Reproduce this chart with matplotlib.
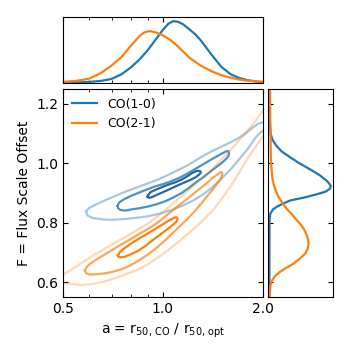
import matplotlib
matplotlib.use("Agg")
import matplotlib.pyplot as plt
from matplotlib.ticker import FixedLocator, NullFormatter

# --- contour levels (a, F) ---
# CO(1-0)
b_in_x = [0.900, 0.915, 0.946, 0.99, 1.037, 1.09, 1.138, 1.18, 1.220, 1.255, 1.280, 1.297, 1.300, 1.285, 1.263,
          1.215, 1.164, 1.11, 1.062, 1.015, 0.968, 0.93, 0.910, 0.898, 0.900]
b_in_y = [0.890, 0.902, 0.910, 0.919, 0.928, 0.936, 0.945, 0.955, 0.966, 0.973, 0.975, 0.973, 0.968, 0.962, 0.955,
          0.945, 0.936, 0.926, 0.916, 0.906, 0.896, 0.887, 0.884, 0.886, 0.890]
b_mid_x = [0.730, 0.738, 0.758, 0.80, 0.85, 0.90, 0.946, 1.0, 1.062, 1.13, 1.192, 1.26, 1.338, 1.42, 1.502, 1.55,
           1.573, 1.582, 1.575, 1.545, 1.50, 1.45, 1.401, 1.33, 1.248, 1.19, 1.138, 1.075, 1.014, 0.955, 0.903,
           0.851, 0.805, 0.77, 0.745, 0.733, 0.730]
b_mid_y = [0.856, 0.868, 0.877, 0.890, 0.902, 0.913, 0.922, 0.930, 0.940, 0.953, 0.967, 0.983, 1.000, 1.017, 1.032,
           1.040, 1.041, 1.034, 1.024, 1.013, 1.000, 0.988, 0.975, 0.955, 0.933, 0.915, 0.900, 0.885, 0.872,
           0.862, 0.855, 0.849, 0.845, 0.841, 0.843, 0.849, 0.856]
b_out_x = [0.587, 0.600, 0.630, 0.684, 0.735, 0.786, 0.84, 0.903, 0.97, 1.037, 1.11, 1.192, 1.26, 1.338, 1.42,
           1.502, 1.59, 1.686, 1.77, 1.849, 1.93, 2.05, 2.06, 1.95, 1.892, 1.806, 1.71, 1.610, 1.50, 1.401, 1.32,
           1.248, 1.16, 1.062, 0.98, 0.903, 0.82, 0.751, 0.707, 0.66, 0.615, 0.592, 0.587]
b_out_y = [0.838, 0.850, 0.862, 0.880, 0.895, 0.908, 0.920, 0.933, 0.946, 0.961, 0.977, 0.994, 1.011, 1.028, 1.043,
           1.056, 1.069, 1.084, 1.100, 1.117, 1.132, 1.142, 1.12, 1.100, 1.083, 1.050, 1.018, 0.983, 0.948, 0.917,
           0.895, 0.878, 0.860, 0.843, 0.831, 0.822, 0.816, 0.812, 0.810, 0.811, 0.816, 0.825, 0.838]
# CO(2-1)
o_in_x = [0.732, 0.740, 0.760, 0.79, 0.824, 0.875, 0.925, 0.98, 1.037, 1.065, 1.087, 1.103, 1.107, 1.100, 1.087,
          1.05, 1.014, 0.97, 0.925, 0.885, 0.843, 0.80, 0.768, 0.745, 0.734, 0.732]
o_in_y = [0.690, 0.700, 0.712, 0.725, 0.739, 0.756, 0.772, 0.789, 0.806, 0.813, 0.818, 0.818, 0.812, 0.805, 0.799,
          0.785, 0.772, 0.756, 0.739, 0.722, 0.706, 0.694, 0.686, 0.684, 0.686, 0.690]
o_mid_x = [0.582, 0.590, 0.605, 0.630, 0.669, 0.71, 0.751, 0.80, 0.843, 0.895, 0.946, 1.0, 1.062, 1.125, 1.192,
           1.26, 1.338, 1.41, 1.470, 1.495, 1.510, 1.505, 1.485, 1.43, 1.369, 1.31, 1.248, 1.19, 1.138, 1.085,
           1.037, 0.99, 0.946, 0.895, 0.843, 0.795, 0.751, 0.71, 0.669, 0.63, 0.600, 0.586, 0.582]
o_mid_y = [0.640, 0.652, 0.663, 0.676, 0.694, 0.711, 0.728, 0.745, 0.761, 0.777, 0.794, 0.815, 0.839, 0.861, 0.883,
           0.905, 0.928, 0.950, 0.965, 0.971, 0.966, 0.955, 0.944, 0.920, 0.894, 0.867, 0.839, 0.815, 0.794,
           0.772, 0.750, 0.730, 0.711, 0.691, 0.672, 0.656, 0.644, 0.636, 0.630, 0.627, 0.626, 0.631, 0.640]
o_out_x = [0.49, 0.52, 0.543, 0.58, 0.624, 0.69, 0.751, 0.82, 0.90, 0.98, 1.062, 1.15, 1.248, 1.34, 1.434, 1.54,
           1.647, 1.77, 1.892, 1.96, 2.05, 2.06, 1.99, 1.90, 1.806, 1.70, 1.610, 1.52, 1.434, 1.34, 1.248, 1.15,
           1.062, 0.98, 0.903, 0.83, 0.751, 0.70, 0.654, 0.61, 0.569, 0.531, 0.49]
o_out_y = [0.620, 0.637, 0.650, 0.671, 0.694, 0.722, 0.745, 0.770, 0.797, 0.828, 0.861, 0.894, 0.928, 0.958, 0.989,
           1.025, 1.061, 1.100, 1.139, 1.163, 1.190, 1.10, 1.088, 1.055, 1.020, 0.970, 0.928, 0.888, 0.850, 0.815,
           0.783, 0.749, 0.717, 0.688, 0.661, 0.640, 0.622, 0.610, 0.600, 0.594, 0.591, 0.594, 0.598]

# --- marginal distributions (peak normalised) ---
top_ab = [0.50, 0.55, 0.60, 0.65, 0.70, 0.75, 0.80, 0.85, 0.90, 0.95, 1.00, 1.04, 1.074, 1.11, 1.15, 1.20, 1.25,
          1.30, 1.40, 1.50, 1.60, 1.70, 1.80, 1.90, 2.00]
top_b = [0.005, 0.008, 0.017, 0.033, 0.065, 0.14, 0.25, 0.38, 0.53, 0.70, 0.86, 0.96, 1.00, 0.99, 0.95, 0.87, 0.79,
         0.69, 0.46, 0.26, 0.14, 0.08, 0.045, 0.025, 0.011]
top_ao = [0.50, 0.55, 0.60, 0.65, 0.70, 0.75, 0.80, 0.85, 0.88, 0.91, 0.95, 1.00, 1.05, 1.10, 1.15, 1.20, 1.30,
          1.40, 1.50, 1.60, 1.70, 1.80, 1.90, 2.00]
top_o = [0.016, 0.035, 0.07, 0.16, 0.28, 0.42, 0.60, 0.76, 0.82, 0.84, 0.82, 0.77, 0.70, 0.61, 0.51, 0.41, 0.28,
         0.19, 0.125, 0.085, 0.055, 0.037, 0.026, 0.02]

side_fb = [1.25, 1.15, 1.10, 1.08, 1.06, 1.04, 1.02, 1.00, 0.98, 0.96, 0.94, 0.925, 0.915, 0.905, 0.895, 0.885,
           0.875, 0.865, 0.855, 0.845, 0.83, 0.81, 0.55]
side_b = [0.0, 0.005, 0.02, 0.05, 0.11, 0.20, 0.34, 0.49, 0.66, 0.82, 0.94, 1.00, 0.99, 0.92, 0.76, 0.57, 0.34,
          0.23, 0.13, 0.06, 0.015, 0.003, 0.0]
side_fo = [1.25, 1.15, 1.05, 1.00, 0.95, 0.92, 0.89, 0.864, 0.845, 0.83, 0.81, 0.797, 0.78, 0.763, 0.745, 0.73,
           0.713, 0.696, 0.68, 0.662, 0.648, 0.634, 0.62, 0.606, 0.59, 0.573, 0.55]
side_o = [0.011, 0.015, 0.022, 0.028, 0.05, 0.083, 0.14, 0.222, 0.29, 0.361, 0.44, 0.50, 0.56, 0.60, 0.63, 0.639,
          0.625, 0.583, 0.50, 0.389, 0.27, 0.167, 0.09, 0.044, 0.02, 0.011, 0.005]

blue = "#1f77b4"
orange = "#ff7f0e"

fig = plt.figure(figsize=(3.5, 3.5), dpi=100)
ax = fig.add_axes([0.18, 0.151, 0.571, 0.595])
axt = fig.add_axes([0.18, 0.763, 0.571, 0.188])
axr = fig.add_axes([0.766, 0.151, 0.186, 0.595])

lw = 1.6
ax.plot(b_out_x, b_out_y, color=blue, alpha=0.4, lw=lw)
ax.plot(b_mid_x, b_mid_y, color=blue, alpha=0.8, lw=lw)
ax.plot(b_in_x, b_in_y, color="#2268a3", lw=lw)
ax.plot(o_out_x, o_out_y, color=orange, alpha=0.3, lw=lw)
ax.plot(o_mid_x, o_mid_y, color=orange, alpha=0.7, lw=lw)
ax.plot(o_in_x, o_in_y, color=orange, lw=lw)
ax.plot([], [], color=blue, lw=lw, label="CO(1-0)")
ax.plot([], [], color=orange, lw=lw, label="CO(2-1)")
ax.legend(loc="upper left", frameon=False, fontsize=9, borderaxespad=0.3)

axt.plot(top_ab, top_b, color=blue, lw=lw)
axt.plot(top_ao, top_o, color=orange, lw=lw)
axr.plot(side_b, side_fb, color=blue, lw=lw)
axr.plot(side_o, side_fo, color=orange, lw=lw)

for a in (ax, axt):
    a.set_xscale("log")
    a.set_xlim(0.5, 2.0)
    a.xaxis.set_major_locator(FixedLocator([0.5, 1.0, 2.0]))
    a.xaxis.set_minor_locator(FixedLocator([0.6, 0.7, 0.8, 0.9]))
    a.xaxis.set_minor_formatter(NullFormatter())
ax.set_xticklabels(["0.5", "1.0", "2.0"])
axt.set_xticklabels([])
axt.set_ylim(0, 1.065)
axt.set_yticks([])

for a in (ax, axr):
    a.set_ylim(0.55, 1.25)
    a.set_yticks([0.6, 0.8, 1.0, 1.2])
ax.set_yticklabels(["0.6", "0.8", "1.0", "1.2"])
axr.set_yticklabels([])
axr.set_xlim(-0.02, 1.04)
axr.set_xticks([])

for a in (ax, axt, axr):
    a.tick_params(which="both", direction="in", top=True, right=True, labelsize=10)

ax.set_xlabel(r"a = r$_{\mathrm{50,\,CO}}$ / r$_{\mathrm{50,\,opt}}$", fontsize=10)
ax.set_ylabel("F = Flux Scale Offset", fontsize=10)

fig.savefig("out.png", dpi=100)
